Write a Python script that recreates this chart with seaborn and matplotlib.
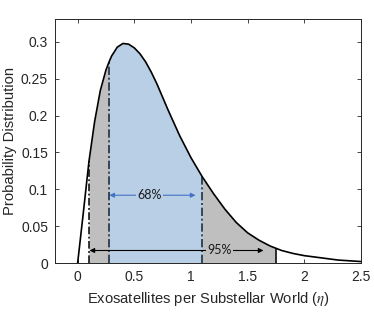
import matplotlib
matplotlib.use("Agg")
import matplotlib.pyplot as plt
import seaborn as sns
import numpy as np
import pandas as pd

# ---- data ----
eta = [0, 0.05, 0.1, 0.15, 0.2, 0.25, 0.28, 0.3, 0.35, 0.4, 0.45, 0.5, 0.55,
       0.6, 0.65, 0.7, 0.75, 0.8, 0.9, 1.0, 1.1, 1.2, 1.3, 1.4, 1.5, 1.6, 1.7,
       1.75, 1.8, 1.9, 2.0, 2.1, 2.2, 2.3, 2.4, 2.5]
pdf = [0, 0.068, 0.138, 0.192, 0.234, 0.262, 0.274, 0.281, 0.293, 0.298,
       0.297, 0.292, 0.284, 0.273, 0.259, 0.243, 0.225, 0.207, 0.173, 0.143,
       0.117, 0.094, 0.073, 0.055, 0.041, 0.031, 0.023, 0.020, 0.017, 0.013,
       0.010, 0.008, 0.006, 0.004, 0.003, 0.002]
ci68 = [0.28, 1.1]
ci95 = [0.1, 1.75]
labels = ["68%", "95%"]
xticks = [0, 0.5, 1, 1.5, 2, 2.5]
xticklabels = ["0", "0.5", "1", "1.5", "2", "2.5"]
yticks = [0, 0.05, 0.1, 0.15, 0.2, 0.25, 0.3]
yticklabels = ["0", "0.05", "0.1", "0.15", "0.2", "0.25", "0.3"]

df = pd.DataFrame({"eta": eta, "pdf": pdf})
lookup = dict(zip(eta, pdf))

sns.set_style("ticks")
plt.rcParams["font.family"] = ["Liberation Sans", "DejaVu Sans"]
plt.rcParams["mathtext.fontset"] = "stix"

BLUE_FILL = "#b8cfe6"
GRAY_FILL = "#bfbfbf"
ARROW_BLUE = "#4472c4"
NAVY = "#1f2f45"
AX_COL = "#262626"

fig = plt.figure(figsize=(3.74, 3.19), dpi=100)
ax = fig.add_axes([0.147, 0.1755, 0.818, 0.7645])

# fills
m95 = (df.eta >= ci95[0]) & (df.eta <= ci95[1])
ax.fill_between(df.eta[m95], 0, df.pdf[m95], color=GRAY_FILL, lw=0, zorder=1)
m68 = (df.eta >= ci68[0]) & (df.eta <= ci68[1])
ax.fill_between(df.eta[m68], 0, df.pdf[m68], color=BLUE_FILL, lw=0, zorder=2)

# curve
sns.lineplot(data=df, x="eta", y="pdf", color="black", lw=1.2, ax=ax, zorder=5)

# vertical bound lines
dd = (0, (5, 1.6, 1.2, 1.6))
ax.vlines(ci95[0], 0, lookup[ci95[0]], colors="black", lw=1.1, linestyles=[dd], zorder=4)
ax.vlines(ci68, 0, [lookup[v] for v in ci68], colors=NAVY, lw=1.2, linestyles=[dd], zorder=4)
ax.vlines(ci95[1], 0, lookup[ci95[1]], colors="black", lw=1.1, zorder=4)

# arrows
y68, y95 = 0.092, 0.017
ax.annotate("", xy=(1.04, y68), xytext=(ci68[0], y68),
            arrowprops=dict(arrowstyle="<|-|>", color=ARROW_BLUE, lw=0.8,
                            mutation_scale=7, shrinkA=0, shrinkB=0), zorder=6)
ax.annotate("", xy=(1.64, y95), xytext=(ci95[0] + 0.005, y95),
            arrowprops=dict(arrowstyle="<|-|>", color="black", lw=0.8,
                            mutation_scale=7, shrinkA=0, shrinkB=0), zorder=6)
ax.text(0.635, y68, labels[0], ha="center", va="center", fontsize=9,
        family=["Lato", "DejaVu Sans"], color="#1a1a1a", zorder=7,
        bbox=dict(facecolor=BLUE_FILL, edgecolor="none", pad=1.0))
ax.text(1.25, y95, labels[1], ha="center", va="center", fontsize=9,
        family=["Lato", "DejaVu Sans"], color="#1a1a1a", zorder=7,
        bbox=dict(facecolor=GRAY_FILL, edgecolor="none", pad=1.0))

ax.set_xlim(-0.2, 2.5)
ax.set_ylim(0, 0.331)
ax.set_xticks(xticks)
ax.set_xticklabels(xticklabels)
ax.set_yticks(yticks)
ax.set_yticklabels(yticklabels)
ax.tick_params(direction="in", length=3, width=0.6, top=True, right=True,
               labelsize=10, colors=AX_COL, pad=5)
for s in ax.spines.values():
    s.set_visible(True)
    s.set_color(AX_COL)
    s.set_linewidth(0.7)
ax.set_xlabel(r"Exosatellites per Substellar World ($\eta$)", fontsize=10.6,
              color=AX_COL, labelpad=4)
ax.set_ylabel("Probability Distribution", fontsize=10.6, color=AX_COL, labelpad=3)

fig.savefig("out.png", dpi=100)
